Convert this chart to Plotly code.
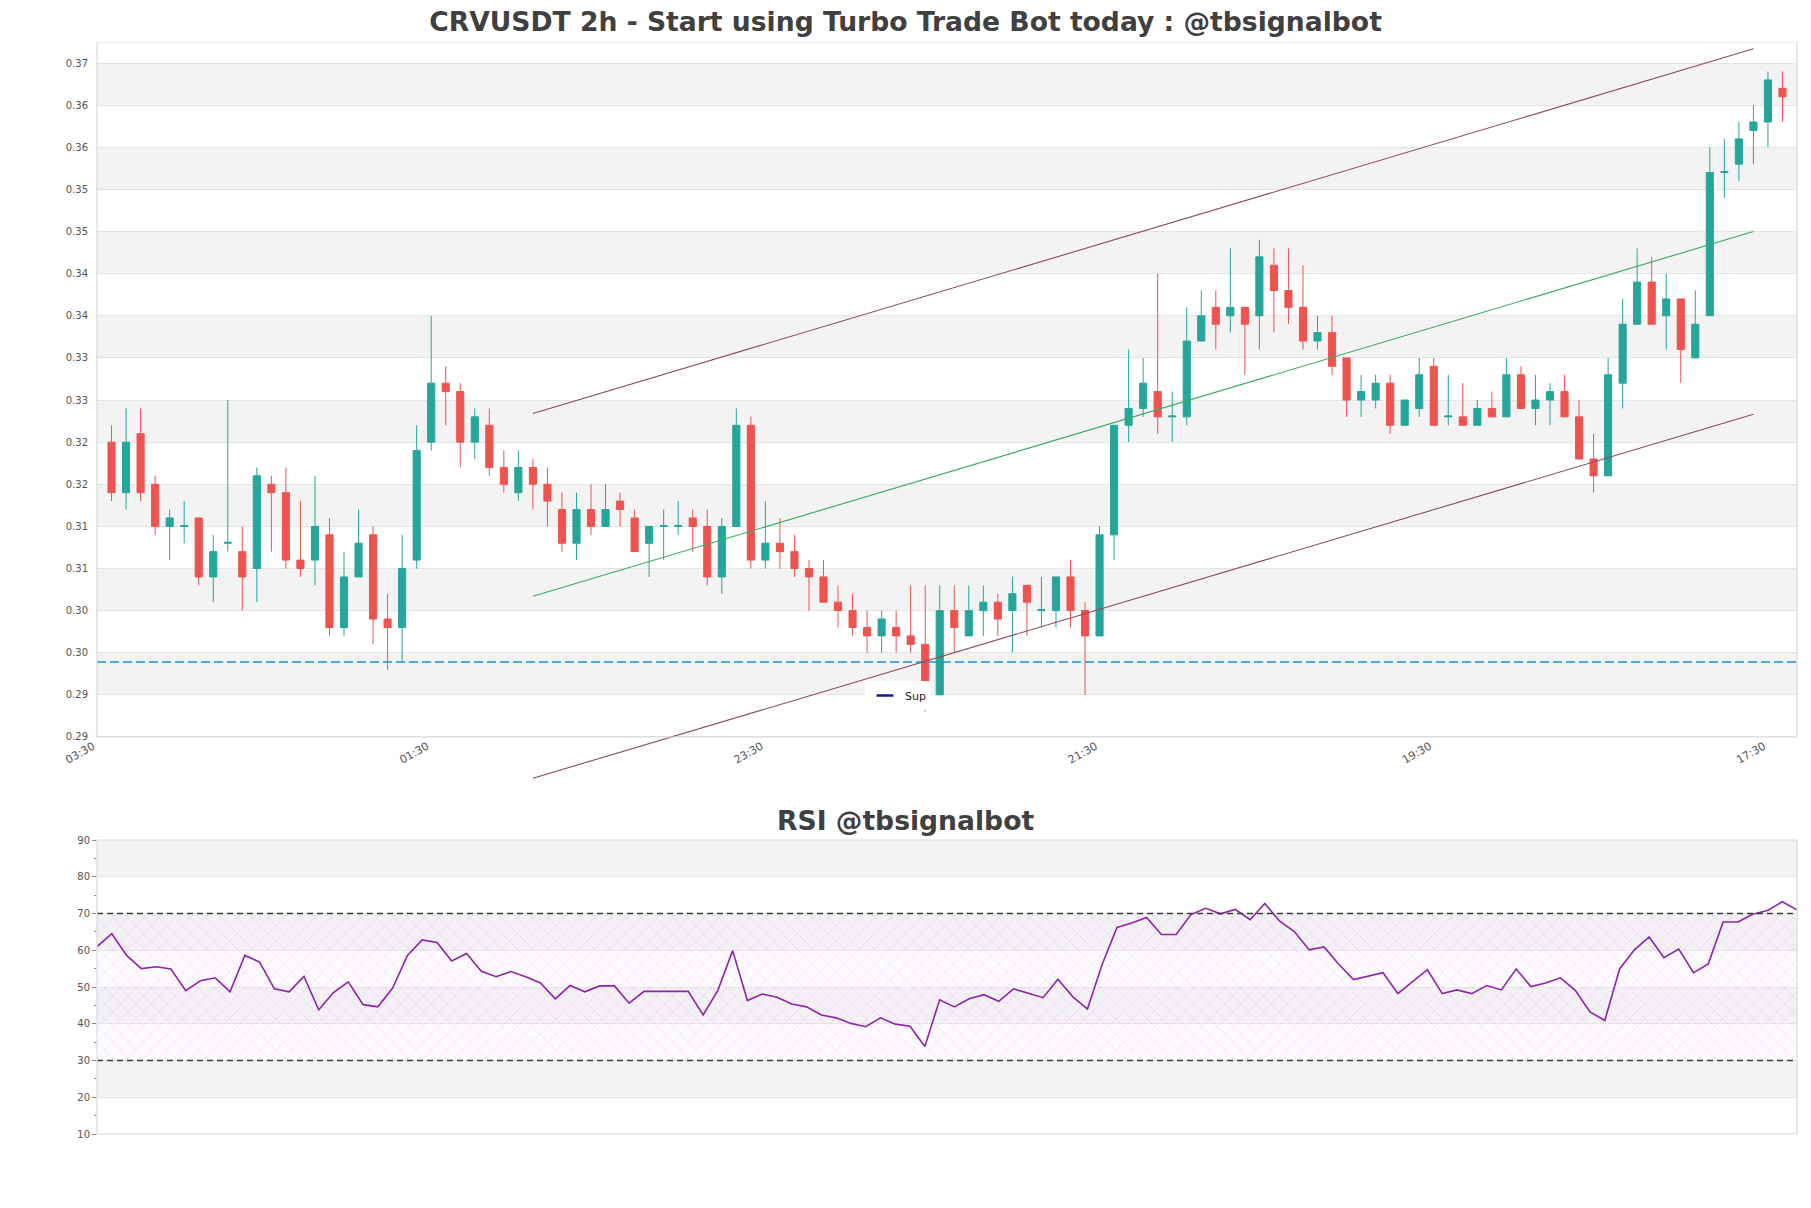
import plotly.graph_objects as go

# ---------------- data ----------------
title_text = "CRVUSDT 2h - Start using Turbo Trade Bot today : @tbsignalbot"
rsi_title_text = "RSI @tbsignalbot"

candle_idx = list(range(116))
opens = [0.325, 0.319, 0.326, 0.320, 0.315, 0.315, 0.316, 0.309, 0.313, 0.312,
         0.310, 0.320, 0.319, 0.311, 0.311, 0.314, 0.303, 0.309, 0.314, 0.304,
         0.303, 0.311, 0.325, 0.332, 0.331, 0.325, 0.327, 0.322, 0.319, 0.322,
         0.320, 0.317, 0.313, 0.317, 0.315, 0.318, 0.316, 0.313, 0.315, 0.315,
         0.316, 0.315, 0.309, 0.315, 0.327, 0.311, 0.313, 0.312, 0.310, 0.309,
         0.306, 0.305, 0.303, 0.302, 0.303, 0.302, 0.301, 0.295, 0.305, 0.302,
         0.305, 0.306, 0.305, 0.308, 0.305, 0.305, 0.309, 0.305, 0.302, 0.314,
         0.327, 0.329, 0.331, 0.328, 0.328, 0.337, 0.341, 0.340, 0.341, 0.340,
         0.346, 0.343, 0.341, 0.337, 0.338, 0.335, 0.330, 0.330, 0.332, 0.327,
         0.329, 0.334, 0.328, 0.328, 0.327, 0.329, 0.328, 0.333, 0.329, 0.330,
         0.331, 0.328, 0.323, 0.321, 0.332, 0.339, 0.344, 0.340, 0.342, 0.335,
         0.340, 0.357, 0.358, 0.362, 0.363, 0.367]
highs = [0.327, 0.329, 0.329, 0.321, 0.317, 0.318, 0.316, 0.314, 0.330, 0.315,
         0.322, 0.321, 0.322, 0.318, 0.321, 0.316, 0.312, 0.317, 0.315, 0.307,
         0.314, 0.327, 0.340, 0.334, 0.332, 0.329, 0.329, 0.324, 0.324, 0.323,
         0.322, 0.319, 0.319, 0.320, 0.320, 0.319, 0.317, 0.315, 0.317, 0.318,
         0.317, 0.317, 0.316, 0.329, 0.328, 0.318, 0.316, 0.314, 0.311, 0.311,
         0.308, 0.307, 0.305, 0.305, 0.305, 0.308, 0.308, 0.308, 0.308, 0.308,
         0.308, 0.307, 0.309, 0.308, 0.309, 0.309, 0.311, 0.306, 0.315, 0.327,
         0.336, 0.335, 0.345, 0.331, 0.341, 0.343, 0.343, 0.348, 0.341, 0.349,
         0.348, 0.348, 0.346, 0.340, 0.340, 0.335, 0.333, 0.333, 0.333, 0.330,
         0.335, 0.335, 0.333, 0.332, 0.330, 0.331, 0.335, 0.334, 0.333, 0.332,
         0.333, 0.330, 0.326, 0.335, 0.342, 0.348, 0.347, 0.345, 0.342, 0.343,
         0.360, 0.361, 0.363, 0.365, 0.369, 0.369]
lows = [0.318, 0.317, 0.318, 0.314, 0.311, 0.313, 0.308, 0.306, 0.312, 0.305,
        0.306, 0.312, 0.310, 0.309, 0.308, 0.302, 0.302, 0.309, 0.301, 0.298,
        0.299, 0.310, 0.324, 0.327, 0.322, 0.323, 0.321, 0.319, 0.318, 0.317,
        0.315, 0.312, 0.311, 0.314, 0.315, 0.315, 0.312, 0.309, 0.311, 0.314,
        0.312, 0.308, 0.307, 0.315, 0.310, 0.310, 0.310, 0.309, 0.305, 0.306,
        0.303, 0.302, 0.300, 0.300, 0.300, 0.300, 0.293, 0.295, 0.300, 0.302,
        0.302, 0.302, 0.300, 0.302, 0.303, 0.303, 0.303, 0.295, 0.302, 0.311,
        0.325, 0.328, 0.326, 0.325, 0.327, 0.337, 0.336, 0.338, 0.333, 0.336,
        0.338, 0.339, 0.336, 0.336, 0.333, 0.328, 0.328, 0.329, 0.326, 0.327,
        0.328, 0.327, 0.327, 0.327, 0.327, 0.328, 0.328, 0.329, 0.327, 0.327,
        0.328, 0.323, 0.319, 0.321, 0.329, 0.339, 0.339, 0.336, 0.332, 0.335,
        0.340, 0.354, 0.356, 0.358, 0.360, 0.363]
closes = [0.319, 0.325, 0.319, 0.315, 0.316, 0.3151, 0.309, 0.312, 0.3131, 0.309,
          0.321, 0.319, 0.311, 0.310, 0.315, 0.303, 0.309, 0.313, 0.304, 0.303,
          0.310, 0.324, 0.332, 0.331, 0.325, 0.328, 0.322, 0.320, 0.322, 0.320,
          0.318, 0.313, 0.317, 0.315, 0.317, 0.317, 0.312, 0.315, 0.3151, 0.3151,
          0.315, 0.309, 0.315, 0.327, 0.311, 0.313, 0.312, 0.310, 0.309, 0.306,
          0.305, 0.303, 0.302, 0.304, 0.302, 0.301, 0.296, 0.305, 0.303, 0.305,
          0.306, 0.304, 0.307, 0.306, 0.3051, 0.309, 0.305, 0.302, 0.314, 0.327,
          0.329, 0.332, 0.328, 0.3281, 0.337, 0.340, 0.339, 0.341, 0.339, 0.347,
          0.343, 0.341, 0.337, 0.338, 0.334, 0.330, 0.331, 0.332, 0.327, 0.330,
          0.333, 0.327, 0.3281, 0.327, 0.329, 0.328, 0.333, 0.329, 0.330, 0.331,
          0.328, 0.323, 0.321, 0.333, 0.339, 0.344, 0.339, 0.342, 0.336, 0.339,
          0.357, 0.3571, 0.361, 0.363, 0.368, 0.366]

rsi_values = [61.0, 64.5, 58.6, 55.0, 55.5, 54.9, 49.0, 51.7, 52.5, 48.7,
              58.6, 56.8, 49.5, 48.7, 52.9, 43.8, 48.5, 51.4, 45.2, 44.6,
              49.7, 58.6, 62.8, 62.1, 57.1, 59.1, 54.3, 52.8, 54.2, 52.8,
              51.1, 46.8, 50.4, 48.7, 50.3, 50.3, 45.6, 48.8, 48.8, 48.8,
              48.8, 42.4, 49.1, 59.9, 46.3, 48.1, 47.2, 45.4, 44.6, 42.4,
              41.6, 40.1, 39.2, 41.6, 39.9, 39.3, 33.8, 46.5, 44.6, 46.8,
              47.9, 46.1, 49.5, 48.3, 47.1, 52.1, 47.4, 44.0, 56.2, 66.2,
              67.4, 68.9, 64.3, 64.3, 69.7, 71.4, 69.9, 71.1, 68.3, 72.7,
              67.9, 65.1, 60.1, 60.9, 56.2, 52.0, 52.9, 53.9, 48.2, 51.5,
              54.7, 48.2, 49.2, 48.2, 50.4, 49.2, 54.9, 50.1, 51.1, 52.5,
              49.1, 43.2, 40.9, 54.9, 60.1, 63.6, 58.0, 60.3, 53.9, 56.3,
              67.7, 67.7, 69.8, 70.8, 73.2, 71.0]
rsi_idx = list(range(len(rsi_values)))

x_tick_pos = [-1, 22, 45, 68, 91, 114]
x_tick_labels = ["03:30", "01:30", "23:30", "21:30", "19:30", "17:30"]

y_tick_vals = [0.290, 0.295, 0.300, 0.305, 0.310, 0.315, 0.320, 0.325, 0.330,
               0.335, 0.340, 0.345, 0.350, 0.355, 0.360, 0.365, 0.370]
y_tick_labels = ["0.29", "0.29", "0.30", "0.30", "0.31", "0.31", "0.32", "0.32",
                 "0.33", "0.33", "0.34", "0.34", "0.35", "0.35", "0.36", "0.36",
                 "0.37"]

support_level = 0.2989
channel_x = [29, 113]
channel_upper = [0.3284, 0.3717]
channel_mid = [0.3067, 0.3500]
channel_lower = [0.2851, 0.3283]

rsi_tick_vals = [10, 20, 30, 40, 50, 60, 70, 80, 90]
rsi_overbought = 70
rsi_oversold = 30

# ---------------- layout geometry ----------------
W, H = 1811, 1208
ML, MR, MT, MB = 97, 14, 42, 74
PH = H - MT - MB
main_axis_bottom = 0.29
main_range = [0.284, 0.3725]
px_per_unit = 8424.0
main_dom0 = 1 - (main_range[1] - main_range[0]) * px_per_unit / PH
main_domain = [main_dom0, 1.0]
xaxis_pos = main_dom0 + (main_axis_bottom - main_range[0]) / (main_range[1] - main_range[0]) * (1 - main_dom0)
rsi_domain = [0.0, 294.0 / PH]

FONT = "DejaVu Sans"
GRID = "#e4e4e4"
BAND = "#f3f3f3"
BORDER = "#d9d9d9"
TXT = "#555555"

fig = go.Figure()

fig.add_trace(go.Candlestick(
    x=candle_idx, open=opens, high=highs, low=lows, close=closes,
    increasing=dict(line=dict(color="#26a69a", width=1), fillcolor="#26a69a"),
    decreasing=dict(line=dict(color="#ef5350", width=1), fillcolor="#ef5350"),
    showlegend=False, xaxis="x", yaxis="y", name="CRVUSDT"))

fig.add_trace(go.Scatter(x=[-1, 116], y=[support_level, support_level],
                         mode="lines", line=dict(color="#1b93d1", width=1.3, dash="9px,4px"),
                         showlegend=False, xaxis="x", yaxis="y", hoverinfo="skip"))

for ys, col in [(channel_upper, "#8a4a60"), (channel_mid, "#3aa860"), (channel_lower, "#8a4a60")]:
    fig.add_trace(go.Scatter(x=channel_x, y=ys, mode="lines",
                             line=dict(color=col, width=1.1), showlegend=False,
                             xaxis="x", yaxis="y", hoverinfo="skip"))

fig.add_trace(go.Scatter(x=[None], y=[None], mode="markers", name="Sup",
                         marker=dict(symbol="line-ew-open", size=12, color="#1414a0",
                                     line=dict(color="#1414a0", width=2.5)),
                         showlegend=True, xaxis="x", yaxis="y"))

# RSI hatch band
fig.add_trace(go.Scatter(x=[rsi_idx[0], rsi_idx[-1], rsi_idx[-1], rsi_idx[0], rsi_idx[0]],
                         y=[rsi_oversold, rsi_oversold, rsi_overbought, rsi_overbought, rsi_oversold],
                         mode="none", fill="toself", fillcolor="rgba(0,0,0,0)",
                         fillpattern=dict(shape="x", fgcolor="rgba(185,130,210,0.55)",
                                          bgcolor="rgba(240,225,245,0.15)", size=11, solidity=0.1),
                         showlegend=False, xaxis="x2", yaxis="y2", hoverinfo="skip"))

fig.add_trace(go.Scatter(x=rsi_idx, y=rsi_values, mode="lines",
                         line=dict(color="#8e24aa", width=1.6),
                         showlegend=False, xaxis="x2", yaxis="y2"))

shapes = []
for i in range(1, len(y_tick_vals) - 1, 2):
    shapes.append(dict(type="rect", xref="x domain", yref="y", x0=0, x1=1,
                       y0=y_tick_vals[i], y1=y_tick_vals[i + 1],
                       fillcolor=BAND, line=dict(width=0), layer="below"))
shapes.append(dict(type="rect", xref="x domain", yref="y", x0=0, x1=1,
                   y0=main_axis_bottom, y1=main_range[1],
                   fillcolor="rgba(0,0,0,0)", line=dict(color=BORDER, width=1.2), layer="above"))
for i in range(1, len(rsi_tick_vals) - 1, 2):
    shapes.append(dict(type="rect", xref="x2 domain", yref="y2", x0=0, x1=1,
                       y0=rsi_tick_vals[i], y1=rsi_tick_vals[i + 1],
                       fillcolor=BAND, line=dict(width=0), layer="below"))
for lvl in (rsi_overbought, rsi_oversold):
    shapes.append(dict(type="line", xref="x2 domain", yref="y2", x0=0, x1=1, y0=lvl, y1=lvl,
                       line=dict(color="#3a3a3a", width=1.3, dash="6px,4px"), layer="above"))
shapes.append(dict(type="rect", xref="x2 domain", yref="y2 domain", x0=0, x1=1, y0=0, y1=1,
                   fillcolor="rgba(0,0,0,0)", line=dict(color=BORDER, width=1.2), layer="above"))

rsi_title_x = (W / 2 - ML) / (W - ML - MR)

fig.update_layout(
    width=W, height=H, autosize=False,
    margin=dict(l=ML, r=MR, t=MT, b=MB),
    paper_bgcolor="white", plot_bgcolor="white",
    font=dict(family=FONT, color=TXT, size=10),
    title=dict(text=title_text, x=0.5, xref="container", xanchor="center",
               y=1 - 22 / H, yref="container", yanchor="middle",
               font=dict(family=FONT, size=26.6, color="#404040", weight="bold")),
    showlegend=True,
    legend=dict(x=(865 - ML) / (W - ML - MR), y=(H - MB - 681) / PH, xanchor="left", yanchor="top",
                bgcolor="white", borderwidth=0, font=dict(size=11, color="#222"),
                itemwidth=30),
    xaxis=dict(domain=[0, 1], range=[-1, 116], anchor="free", position=xaxis_pos,
               tickvals=x_tick_pos, ticktext=x_tick_labels, tickangle=-30,
               showgrid=False, zeroline=False, showline=False, ticks="",
               ticklabelshift=-4,
               tickfont=dict(size=11, color=TXT), rangeslider=dict(visible=False)),
    yaxis=dict(domain=main_domain, range=main_range, anchor="x",
               tickvals=y_tick_vals, ticktext=y_tick_labels,
               showgrid=True, gridcolor=GRID, gridwidth=1, zeroline=False, showline=False,
               ticks="outside", ticklen=6, tickcolor="rgba(0,0,0,0)",
               tickfont=dict(size=10, color=TXT)),
    xaxis2=dict(domain=[0, 1], range=[rsi_idx[0], rsi_idx[-1]], anchor="y2",
                showticklabels=False, showgrid=False, zeroline=False, showline=False, ticks=""),
    yaxis2=dict(domain=rsi_domain, range=[10, 90], anchor="x2",
                tickvals=rsi_tick_vals, showgrid=True, gridcolor=GRID, zeroline=False,
                showline=False, ticks="outside", ticklen=4, tickcolor="#888",
                minor=dict(ticks="outside", ticklen=2, dtick=5, tickcolor="#888", showgrid=False),
                tickfont=dict(size=10, color=TXT)),
    shapes=shapes,
    annotations=[dict(text="<b>" + rsi_title_text + "</b>", xref="paper", yref="paper",
                      x=rsi_title_x, y=(H - MB - 820) / PH, xanchor="center", yanchor="middle",
                      showarrow=False, font=dict(family=FONT, size=26.6, color="#404040"))],
)

fig.write_html("out.html")
